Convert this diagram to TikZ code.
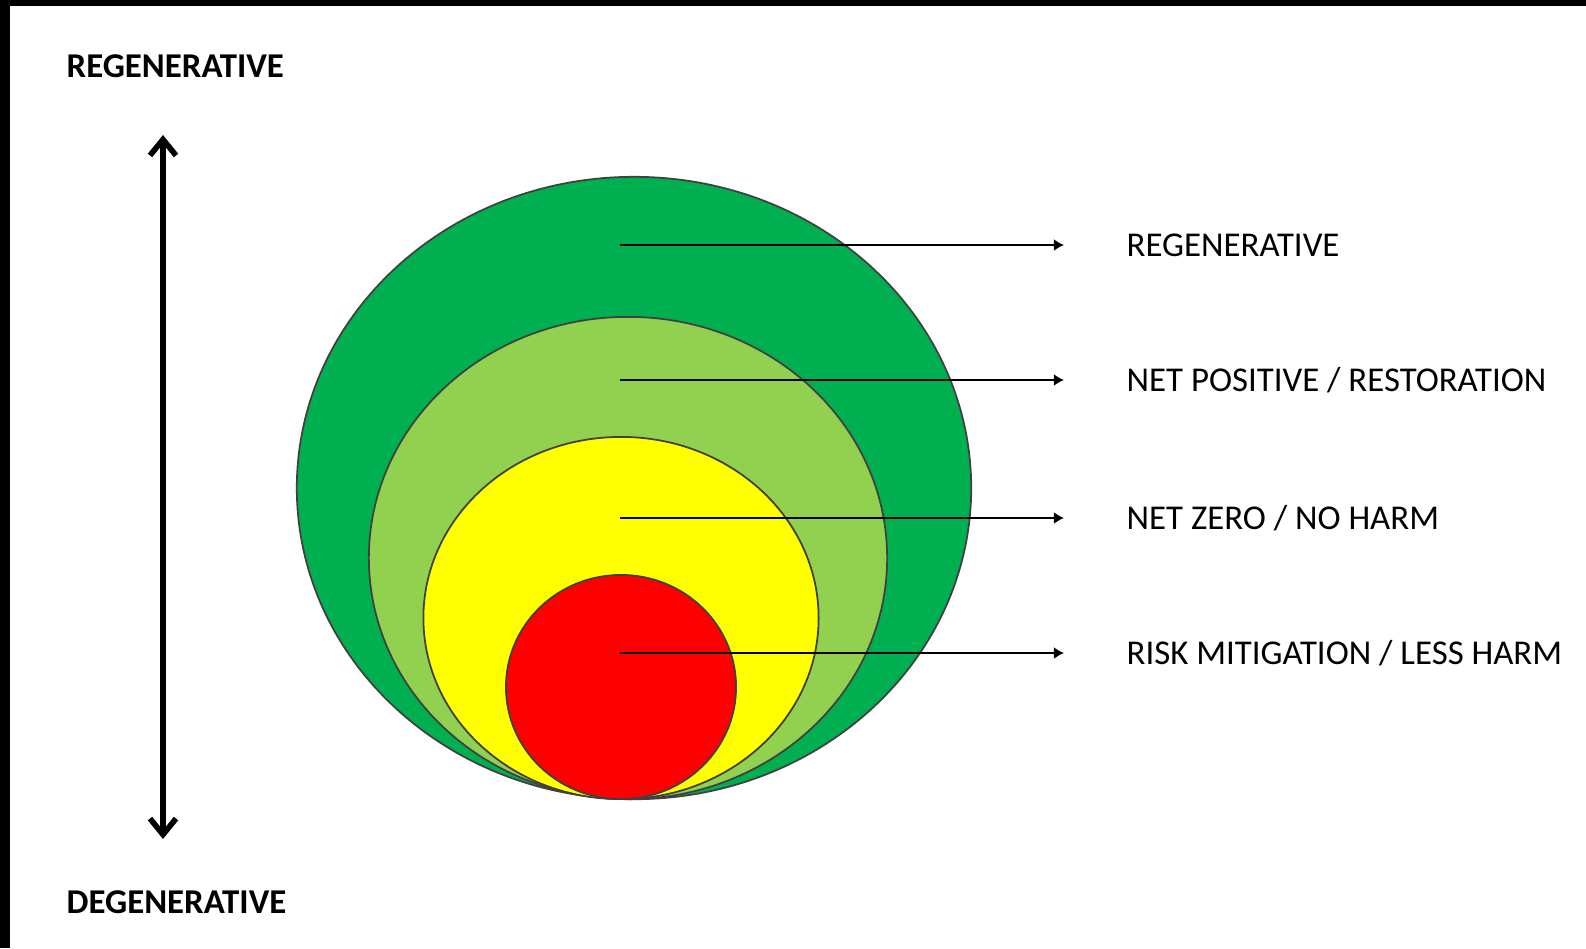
\documentclass[tikz,border=0pt]{standalone}
\usepackage{fontspec}
\setmainfont{Carlito}
\usetikzlibrary{shapes.geometric, arrows.meta, positioning}
\definecolor{deepgreen}{RGB}{0,176,80}
\definecolor{lightgreen}{RGB}{146,208,80}
\definecolor{sunyellow}{RGB}{255,255,0}
\definecolor{alarmred}{RGB}{255,0,0}

\begin{document}
\begin{tikzpicture}[x=0.01cm, y=-0.01cm,
    zone/.style={draw=black!75, ellipse, inner sep=0pt, line width=0.5pt},
    level/.style={anchor=west, inner sep=0pt, text height=0.225cm, text depth=0pt,
                  font=\fontsize{9.9}{12}\selectfont},
    pole/.style={anchor=base west, inner sep=0pt, font=\fontsize{9.9}{12}\selectfont\bfseries},
    pointer/.style={-{Latex[length=0.1cm,width=0.12cm]}, line width=0.7pt, shorten >=0.62cm},
    axisline/.style={{Straight Barb[length=0.16cm,width=0.26cm]}-{Straight Barb[length=0.16cm,width=0.26cm]},
                  line width=1.6pt}
  ]
  \useasboundingbox (0,0) rectangle (1586,948);
  \fill[black] (0,0) rectangle (1586,6);
  \fill[black] (0,0) rectangle (10,948);

  \node[zone, fill=deepgreen, minimum width=6.74cm, minimum height=6.22cm] (regen) at (634,488) {};
  \node[zone, fill=lightgreen, minimum width=5.18cm, minimum height=4.82cm] (restore) at (628,558) {};
  \node[zone, fill=sunyellow, minimum width=3.95cm, minimum height=3.62cm] (noharm) at (621,618) {};
  \node[zone, fill=alarmred, minimum width=2.30cm, minimum height=2.24cm] (lessharm) at (621,687) {};

  \node[level] (lab1) at (1126,245) {REGENERATIVE};
  \node[level] (lab2) at (1126,380) {NET POSITIVE / RESTORATION};
  \node[level] (lab3) at (1126,518) {NET ZERO / NO HARM};
  \node[level] (lab4) at (1126,653) {RISK MITIGATION / LESS HARM};

  \coordinate (p1) at (620,245);
  \coordinate (p2) at (620,380);
  \coordinate (p3) at (620,518);
  \coordinate (p4) at (620,653);
  \draw[pointer] (p1) -- (lab1);
  \draw[pointer] (p2) -- (lab2);
  \draw[pointer] (p3) -- (lab3);
  \draw[pointer] (p4) -- (lab4);

  \node[pole] (top) at (66,77) {REGENERATIVE};
  \node[pole] (bottom) at (66,913) {DEGENERATIVE};
  \coordinate (up) at (163,135);
  \coordinate (down) at (163,839);
  \draw[axisline] (up) -- (down);
\end{tikzpicture}
\end{document}
